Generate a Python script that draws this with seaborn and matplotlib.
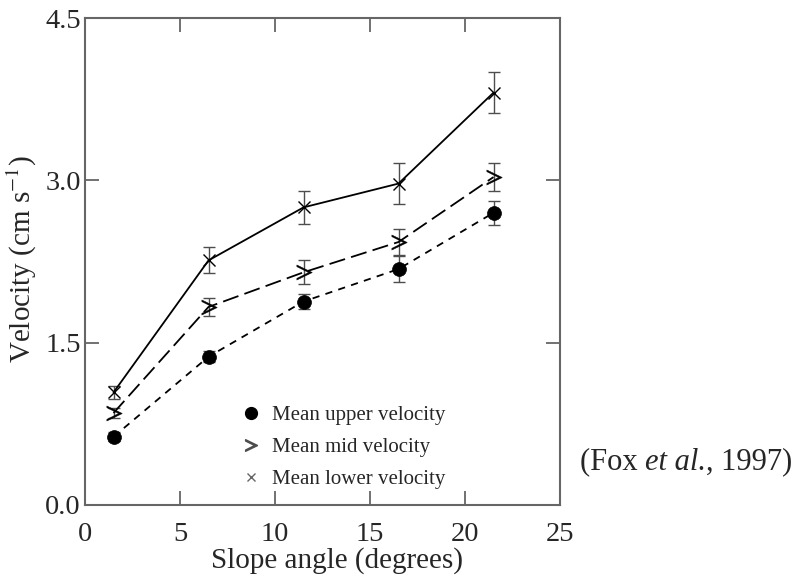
import matplotlib
matplotlib.use("Agg")
import matplotlib.pyplot as plt
import seaborn as sns
import pandas as pd
from matplotlib.lines import Line2D

# Slope angle (degrees) at which velocities were measured
slope = [1.5, 6.5, 11.5, 16.5, 21.5]

# Mean velocities (cm/s) and their error half-widths
upper = [0.63, 1.37, 1.88, 2.18, 2.70]
upper_err = [0.04, 0.05, 0.07, 0.12, 0.11]
mid = [0.85, 1.83, 2.15, 2.43, 3.03]
mid_err = [0.05, 0.08, 0.11, 0.12, 0.13]
lower = [1.04, 2.26, 2.75, 2.97, 3.81]
lower_err = [0.06, 0.12, 0.15, 0.19, 0.19]

series_names = ["Mean upper velocity", "Mean mid velocity", "Mean lower velocity"]
x_ticks = [0, 5, 10, 15, 20, 25]
y_ticks = [0.0, 1.5, 3.0, 4.5]

sns.set_theme(style="ticks")
plt.rcParams["font.family"] = ["Liberation Serif", "DejaVu Serif"]
plt.rcParams["mathtext.fontset"] = "stix"

fig = plt.figure(figsize=(8.05, 5.81), dpi=100)
ax = fig.add_axes([85 / 805, 1 - 505 / 581, 475 / 805, 487 / 581])

df = pd.concat([
    pd.DataFrame({"slope": slope, "v": upper, "err": upper_err, "series": series_names[0]}),
    pd.DataFrame({"slope": slope, "v": mid, "err": mid_err, "series": series_names[1]}),
    pd.DataFrame({"slope": slope, "v": lower, "err": lower_err, "series": series_names[2]}),
], ignore_index=True)

styles = {
    series_names[0]: dict(marker="o", ms=10, dashes=(4, 3.5), mew=0.5),
    series_names[1]: dict(marker="$>$", ms=11, dashes=(9, 3.5), mew=0.3),
    series_names[2]: dict(marker="x", ms=8, dashes=None, mew=1.0),
}

for name in series_names:
    sub = df[df["series"] == name]
    st = styles[name]
    ax.errorbar(sub["slope"], sub["v"], yerr=sub["err"], fmt="none",
                ecolor="0.3", elinewidth=1.0, capsize=4.5, capthick=1.0, zorder=2)
    sns.lineplot(data=sub, x="slope", y="v", ax=ax, color="black", linewidth=1.3,
                 marker=st["marker"], markersize=st["ms"], markerfacecolor="black",
                 markeredgecolor="black", markeredgewidth=st["mew"], zorder=3,
                 legend=False)
    if st["dashes"] is not None:
        ax.lines[-1].set_dashes(st["dashes"])

ax.set_xlim(0, 25)
ax.set_ylim(0, 4.5)
ax.set_xticks(x_ticks)
ax.set_yticks(y_ticks)
ax.set_xticklabels([str(t) for t in x_ticks])
ax.set_yticklabels([f"{t:.1f}" for t in y_ticks])
ax.tick_params(direction="in", length=10, width=1.2, color="0.35",
               labelsize=20.5, top=True, right=True)
ax.tick_params(axis="x", pad=12)
ax.tick_params(axis="y", pad=3)
for sp in ax.spines.values():
    sp.set_visible(True)
    sp.set_color("0.4")
    sp.set_linewidth(1.5)

ax.set_xlabel("Slope angle (degrees)", fontsize=21)
ax.xaxis.set_label_coords(0.53, -0.086)
ax.set_ylabel("Velocity (cm s$^{-1}$)", fontsize=21)
ax.yaxis.set_label_coords(-0.097, 0.505)

handles = [
    Line2D([], [], linestyle="none", marker="o", ms=8.5, color="black"),
    Line2D([], [], linestyle="none", marker="$>$", ms=8.5, color="0.3"),
    Line2D([], [], linestyle="none", marker="x", ms=6, color="0.4", mew=1.0),
]
ax.legend(handles, series_names, loc="upper left", bbox_to_anchor=(0.3095, 0.222),
          frameon=False, fontsize=15, handlelength=1.0, handletextpad=0.5,
          labelspacing=0.6, borderaxespad=0)

# Citation, set piece by piece so the italic part sits flush with its neighbours
fig.canvas.draw()
renderer = fig.canvas.get_renderer()
x0 = 580 / 805
y0 = 1 - 462 / 581
for piece, style in [("(Fox ", "normal"), ("et al.", "italic"), (", 1997)", "normal")]:
    t = fig.text(x0, y0, piece, fontsize=22, fontstyle=style, ha="left", va="center")
    bb = t.get_window_extent(renderer)
    x0 += bb.width / fig.bbox.width

fig.savefig("out.png", dpi=100)
